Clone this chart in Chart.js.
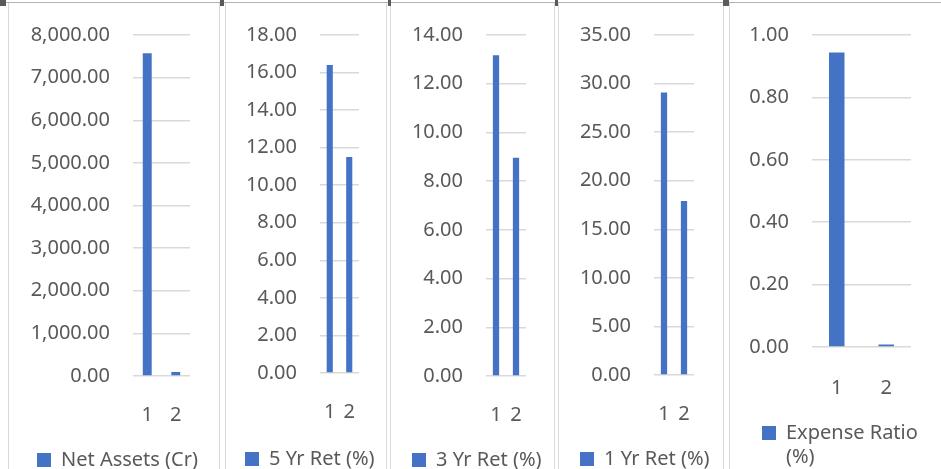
<!DOCTYPE html>
<html>
<head>
<meta charset="utf-8">
<script src="https://cdn.jsdelivr.net/npm/chart.js@4"></script>
<style>
  html, body {
    margin: 0;
    padding: 0;
    background: #fff;
    width: 941px;
    height: 469px;
    overflow: hidden;
    position: relative;
  }
  .topline {
    position: absolute;
    left: 0;
    top: 2px;
    width: 941px;
    height: 1px;
    background: #b4b4b4;
  }
  .vline {
    position: absolute;
    top: 3px;
    width: 1px;
    height: 466px;
    background: #d9d9d9;
  }
  .handle {
    position: absolute;
    top: 0;
    height: 6px;
    background: #5a5a5a;
  }
  canvas {
    position: absolute;
    top: 0;
  }
</style>
</head>
<body>
<div class="topline"></div>
<div class="vline" style="left:8px"></div>
<div class="vline" style="left:219px"></div>
<div class="vline" style="left:225px"></div>
<div class="vline" style="left:386px"></div>
<div class="vline" style="left:390px"></div>
<div class="vline" style="left:554px"></div>
<div class="vline" style="left:558px"></div>
<div class="vline" style="left:723px"></div>
<div class="vline" style="left:729px"></div>
<div class="handle" style="left:0;width:6px"></div>
<div class="handle" style="left:220px;width:4px"></div>
<div class="handle" style="left:388px;width:3px"></div>
<div class="handle" style="left:555px;width:3px"></div>
<div class="handle" style="left:723px;width:6px"></div>

<canvas id="netAssetsChart" width="210" height="480" style="left:9px"></canvas>
<canvas id="fiveYrChart" width="160" height="479" style="left:226px"></canvas>
<canvas id="threeYrChart" width="163" height="480" style="left:391px"></canvas>
<canvas id="oneYrChart" width="164" height="479" style="left:559px"></canvas>
<canvas id="expenseChart" width="211" height="483" style="left:730px"></canvas>

<script>
// values
const categories = ['1', '2'];
const netAssets = [7570, 95];
const fiveYrRet = [16.4, 11.5];
const threeYrRet = [13.17, 8.96];
const oneYrRet = [29.07, 17.9];
const expenseRatio = [0.944, 0.008];

const seriesLabels = ['Net Assets (Cr)', '5 Yr Ret (%)', '3 Yr Ret (%)', '1 Yr Ret (%)', ['Expense Ratio', '(%)']];
const axisMax = [8000, 18, 14, 35, 1];
const axisStep = [1000, 2, 2, 5, 0.2];

const BAR_BLUE = '#4472C4';
const TEXT_GREY = '#595959';
const FONT = { family: '"Noto Sans", "Open Sans", sans-serif', size: 20 };

function fmt(v) {
  return Number(v).toLocaleString('en-US', { minimumFractionDigits: 2, maximumFractionDigits: 2 });
}

// legend and x labels get clipped to their own boxes, let them run to the canvas edge
const noClip = {
  id: 'noClip',
  afterLayout: function(chart) {
    chart.legend.right = chart.width;
    chart.legend.bottom = chart.height;
    chart.scales.x.bottom = chart.height;
  }
};

// layout: yWidth = space left of the plot, padRight = space right of it,
// legendPad = legend inset (also pushes the legend row down), xHeight = room for 1 / 2
function makeChart(id, values, i, layout) {
  return new Chart(document.getElementById(id), {
    type: 'bar',
    plugins: [noClip],
    data: {
      labels: categories,
      datasets: [{
        label: seriesLabels[i],
        data: values,
        backgroundColor: BAR_BLUE,
        borderWidth: 0,
        barPercentage: 0.313,
        categoryPercentage: 1
      }]
    },
    options: {
      responsive: false,
      animation: false,
      layout: {
        padding: { left: 0, top: 33, right: layout.padRight, bottom: layout.padBottom || 0 }
      },
      plugins: {
        tooltip: { enabled: false },
        legend: {
          position: 'bottom',
          align: 'start',
          labels: {
            boxWidth: 14,
            boxHeight: 14,
            padding: layout.legendPad,
            color: TEXT_GREY,
            font: FONT
          }
        }
      },
      scales: {
        x: {
          grid: { display: false },
          border: { display: false },
          ticks: { color: TEXT_GREY, font: FONT, padding: layout.tickPad, maxRotation: 0 },
          afterFit: function(scale) { scale.height = layout.xHeight; }
        },
        y: {
          min: 0,
          max: axisMax[i],
          grid: { color: '#d9d9d9', lineWidth: 1.5, drawTicks: false },
          border: { display: false },
          ticks: {
            stepSize: axisStep[i],
            autoSkip: false,
            padding: 23,
            color: TEXT_GREY,
            font: FONT,
            callback: function(v) { return fmt(v); }
          },
          afterFit: function(scale) { scale.width = layout.yWidth; }
        }
      }
    }
  });
}

makeChart('netAssetsChart', netAssets, 0, { yWidth: 124, padRight: 29, legendPad: 28, xHeight: 46, tickPad: 19 });
makeChart('fiveYrChart', fiveYrRet, 1, { yWidth: 94, padRight: 27, legendPad: 19, xHeight: 57, tickPad: 19 });
makeChart('threeYrChart', threeYrRet, 2, { yWidth: 95, padRight: 28, legendPad: 21, xHeight: 53, tickPad: 19 });
makeChart('oneYrChart', oneYrRet, 3, { yWidth: 95, padRight: 29, legendPad: 21, xHeight: 53, tickPad: 19 });
makeChart('expenseChart', expenseRatio, 4, { yWidth: 82, padRight: 30, legendPad: 32, xHeight: 44, tickPad: 21, padBottom: 30 });
</script>
</body>
</html>
